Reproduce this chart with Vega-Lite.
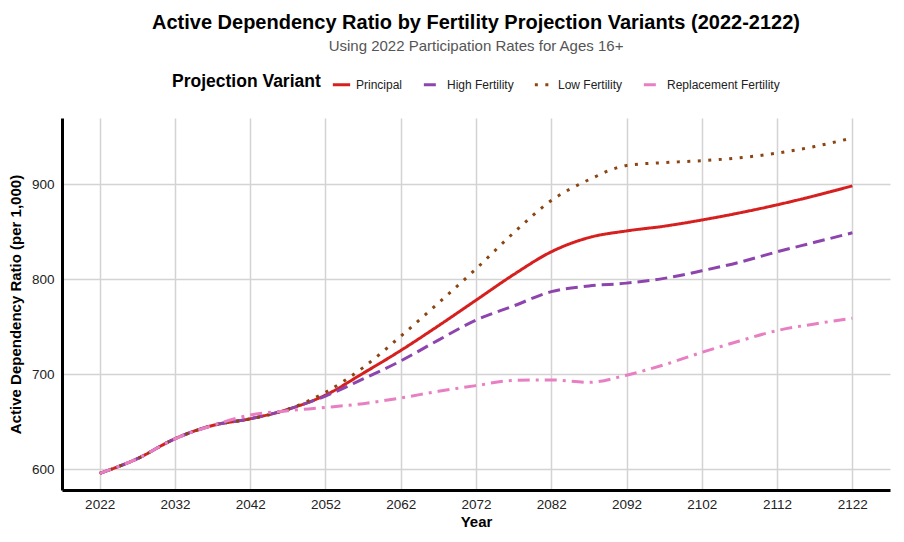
{
  "$schema": "https://vega.github.io/schema/vega-lite/v6.json",
  "width": 828,
  "height": 372,
  "autosize": {"type": "none"},
  "padding": {"left": 62, "top": 118, "right": 14, "bottom": 52},
  "background": "white",
  "title": {
    "text": "Active Dependency Ratio by Fertility Projection Variants (2022-2122)",
    "subtitle": "Using 2022 Participation Rates for Ages 16+",
    "anchor": "middle",
    "font": "Liberation Sans",
    "fontSize": 20,
    "fontWeight": "bold",
    "color": "#000000",
    "subtitleFont": "Liberation Sans",
    "subtitleFontSize": 15,
    "subtitleColor": "#555555",
    "subtitlePadding": 6,
    "offset": 20
  },
  "data": {
    "values": [
      {"year": 2022, "variant": "Principal", "value": 595.5},
      {"year": 2027, "variant": "Principal", "value": 611},
      {"year": 2032, "variant": "Principal", "value": 632},
      {"year": 2037, "variant": "Principal", "value": 646},
      {"year": 2042, "variant": "Principal", "value": 653},
      {"year": 2047, "variant": "Principal", "value": 663},
      {"year": 2052, "variant": "Principal", "value": 678},
      {"year": 2057, "variant": "Principal", "value": 701},
      {"year": 2062, "variant": "Principal", "value": 725},
      {"year": 2067, "variant": "Principal", "value": 751},
      {"year": 2072, "variant": "Principal", "value": 778},
      {"year": 2077, "variant": "Principal", "value": 805},
      {"year": 2082, "variant": "Principal", "value": 829},
      {"year": 2087, "variant": "Principal", "value": 844},
      {"year": 2092, "variant": "Principal", "value": 851},
      {"year": 2097, "variant": "Principal", "value": 856},
      {"year": 2102, "variant": "Principal", "value": 862.5},
      {"year": 2107, "variant": "Principal", "value": 870},
      {"year": 2112, "variant": "Principal", "value": 878.5},
      {"year": 2117, "variant": "Principal", "value": 888},
      {"year": 2122, "variant": "Principal", "value": 898.5},

      {"year": 2022, "variant": "High Fertility", "value": 595.5},
      {"year": 2027, "variant": "High Fertility", "value": 611},
      {"year": 2032, "variant": "High Fertility", "value": 632},
      {"year": 2037, "variant": "High Fertility", "value": 646},
      {"year": 2042, "variant": "High Fertility", "value": 653},
      {"year": 2047, "variant": "High Fertility", "value": 663},
      {"year": 2052, "variant": "High Fertility", "value": 677},
      {"year": 2057, "variant": "High Fertility", "value": 695},
      {"year": 2062, "variant": "High Fertility", "value": 714},
      {"year": 2067, "variant": "High Fertility", "value": 736},
      {"year": 2072, "variant": "High Fertility", "value": 757},
      {"year": 2077, "variant": "High Fertility", "value": 772},
      {"year": 2082, "variant": "High Fertility", "value": 787},
      {"year": 2087, "variant": "High Fertility", "value": 793},
      {"year": 2092, "variant": "High Fertility", "value": 796},
      {"year": 2097, "variant": "High Fertility", "value": 801},
      {"year": 2102, "variant": "High Fertility", "value": 809},
      {"year": 2107, "variant": "High Fertility", "value": 818},
      {"year": 2112, "variant": "High Fertility", "value": 829},
      {"year": 2117, "variant": "High Fertility", "value": 839},
      {"year": 2122, "variant": "High Fertility", "value": 849},

      {"year": 2022, "variant": "Low Fertility", "value": 595.5},
      {"year": 2027, "variant": "Low Fertility", "value": 611},
      {"year": 2032, "variant": "Low Fertility", "value": 632},
      {"year": 2037, "variant": "Low Fertility", "value": 646},
      {"year": 2042, "variant": "Low Fertility", "value": 653},
      {"year": 2047, "variant": "Low Fertility", "value": 663},
      {"year": 2052, "variant": "Low Fertility", "value": 681},
      {"year": 2057, "variant": "Low Fertility", "value": 707},
      {"year": 2062, "variant": "Low Fertility", "value": 740},
      {"year": 2067, "variant": "Low Fertility", "value": 775},
      {"year": 2072, "variant": "Low Fertility", "value": 811},
      {"year": 2077, "variant": "Low Fertility", "value": 849},
      {"year": 2082, "variant": "Low Fertility", "value": 883},
      {"year": 2087, "variant": "Low Fertility", "value": 905},
      {"year": 2092, "variant": "Low Fertility", "value": 920},
      {"year": 2097, "variant": "Low Fertility", "value": 923},
      {"year": 2102, "variant": "Low Fertility", "value": 925},
      {"year": 2107, "variant": "Low Fertility", "value": 928},
      {"year": 2112, "variant": "Low Fertility", "value": 933},
      {"year": 2117, "variant": "Low Fertility", "value": 940},
      {"year": 2122, "variant": "Low Fertility", "value": 949},

      {"year": 2022, "variant": "Replacement Fertility", "value": 595.5},
      {"year": 2027, "variant": "Replacement Fertility", "value": 611},
      {"year": 2032, "variant": "Replacement Fertility", "value": 632},
      {"year": 2037, "variant": "Replacement Fertility", "value": 646},
      {"year": 2042, "variant": "Replacement Fertility", "value": 657},
      {"year": 2047, "variant": "Replacement Fertility", "value": 661.5},
      {"year": 2052, "variant": "Replacement Fertility", "value": 665},
      {"year": 2057, "variant": "Replacement Fertility", "value": 669},
      {"year": 2062, "variant": "Replacement Fertility", "value": 675},
      {"year": 2067, "variant": "Replacement Fertility", "value": 682},
      {"year": 2072, "variant": "Replacement Fertility", "value": 688},
      {"year": 2077, "variant": "Replacement Fertility", "value": 693.5},
      {"year": 2082, "variant": "Replacement Fertility", "value": 694},
      {"year": 2087, "variant": "Replacement Fertility", "value": 691.5},
      {"year": 2092, "variant": "Replacement Fertility", "value": 699},
      {"year": 2097, "variant": "Replacement Fertility", "value": 710},
      {"year": 2102, "variant": "Replacement Fertility", "value": 723},
      {"year": 2107, "variant": "Replacement Fertility", "value": 735},
      {"year": 2112, "variant": "Replacement Fertility", "value": 746},
      {"year": 2117, "variant": "Replacement Fertility", "value": 753},
      {"year": 2122, "variant": "Replacement Fertility", "value": 759}
    ]
  },
  "mark": {"type": "line", "interpolate": "monotone", "strokeWidth": 3},
  "encoding": {
    "x": {
      "field": "year",
      "type": "quantitative",
      "title": "Year",
      "scale": {"domain": [2017, 2127], "nice": false, "zero": false},
      "axis": {
        "values": [2022, 2032, 2042, 2052, 2062, 2072, 2082, 2092, 2102, 2112, 2122],
        "format": "d",
        "labelPadding": 7,
        "titlePadding": 4
      }
    },
    "y": {
      "field": "value",
      "type": "quantitative",
      "title": "Active Dependency Ratio (per 1,000)",
      "scale": {"domain": [578, 970], "nice": false, "zero": false},
      "axis": {
        "values": [600, 700, 800, 900],
        "labelPadding": 8,
        "titlePadding": 8
      }
    },
    "color": {
      "field": "variant",
      "type": "nominal",
      "title": "Projection Variant",
      "scale": {
        "domain": ["Principal", "High Fertility", "Low Fertility", "Replacement Fertility"],
        "range": ["#d62020", "#8e44ad", "#8b4513", "#e87fc3"]
      },
      "legend": {"orient": "top", "direction": "horizontal"}
    },
    "strokeDash": {
      "field": "variant",
      "type": "nominal",
      "title": "Projection Variant",
      "scale": {
        "domain": ["Principal", "High Fertility", "Low Fertility", "Replacement Fertility"],
        "range": [[1, 0], [12, 6], [3, 7.5], [12, 6, 3, 6]]
      },
      "legend": {"orient": "top", "direction": "horizontal"}
    }
  },
  "config": {
    "font": "Liberation Sans",
    "view": {"stroke": null},
    "axis": {
      "domainColor": "#000000",
      "domainWidth": 3,
      "ticks": false,
      "grid": true,
      "gridColor": "#d3d3d3",
      "gridWidth": 1.5,
      "labelFont": "Liberation Sans",
      "labelFontSize": 13.5,
      "labelColor": "#222222",
      "titleFont": "Liberation Sans",
      "titleFontSize": 15,
      "titleFontWeight": "bold",
      "titleColor": "#000000"
    },
    "legend": {
      "titleOrient": "left",
      "titleFont": "Liberation Sans",
      "titleFontSize": 17.5,
      "titleFontWeight": "bold",
      "titleColor": "#000000",
      "titlePadding": 10,
      "labelFont": "Liberation Sans",
      "labelFontSize": 12,
      "labelColor": "#222222",
      "symbolType": "stroke",
      "symbolSize": 300,
      "symbolStrokeWidth": 3,
      "columnPadding": 14,
      "offset": 27,
      "layout": {"top": {"anchor": "middle"}}
    }
  }
}
